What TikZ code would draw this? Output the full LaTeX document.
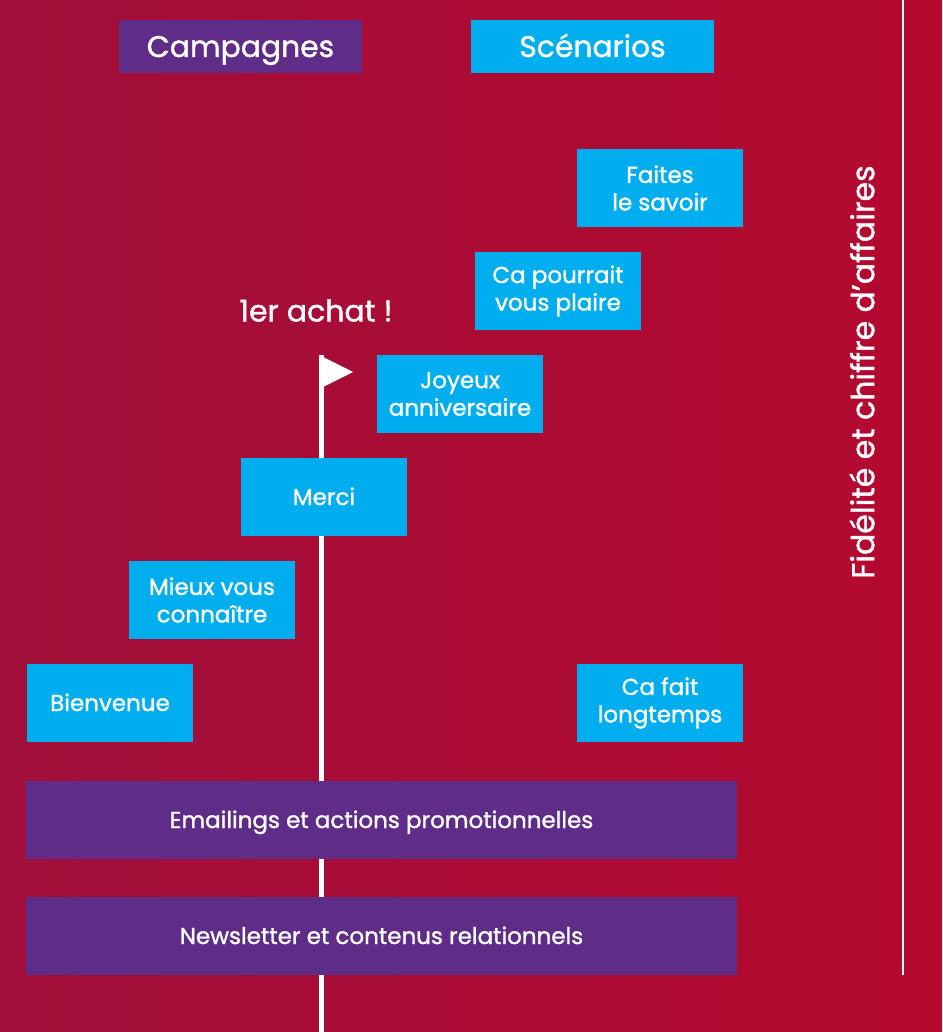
\documentclass[tikz,border=0pt]{standalone}
\usepackage{fontspec}
\setmainfont{Poppins}[FakeBold=1.2]
\usetikzlibrary{shapes.geometric}
\definecolor{bgL}{HTML}{A00F3A}
\definecolor{bgR}{HTML}{B4092F}
\definecolor{violet}{HTML}{5F2D88}
\definecolor{cyanbox}{HTML}{00ADEE}
\tikzset{
  box/.style={rectangle, inner sep=0pt, text=white, align=center, font=\fontsize{23}{27.5}\selectfont},
  sbox/.style={box, fill=cyanbox, minimum width=166pt, minimum height=78pt},
  wbox/.style={box, fill=violet, minimum width=711pt, minimum height=78pt, text height=16pt, text depth=0pt},
  hbox/.style={box, minimum width=243pt, minimum height=53pt, font=\fontsize{29.8}{35}\selectfont, text height=21pt, text depth=0pt},
}
\begin{document}
\begin{tikzpicture}[x=1pt,y=-1pt]
\useasboundingbox (0,0) rectangle (942,1032);
\shade[left color=bgL, right color=bgR] (0,0) rectangle (942,1032);
% timeline
\coordinate (poletop) at (321.5,355);
\coordinate (polebot) at (321.5,1032);
\draw[white, line width=4.5pt] (poletop) -- (polebot);
\fill[white] (319,355) -- (353,372) -- (319,389) -- cycle;
\coordinate (rtop) at (903,0);
\coordinate (rbot) at (903,975);
\draw[white, line width=2pt] (rtop) -- (rbot);
% headers
\node[hbox, fill=violet] (camp) at (240.5,46.5) {Campagnes};
\node[hbox, fill=cyanbox] (scen) at (592.5,46.5) {Scénarios};
% scenario boxes
\node[sbox] (faites) at (660,188) {Faites\\le savoir};
\node[sbox] (pourrait) at (558,291) {Ca pourrait\\vous plaire};
\node[sbox] (joyeux) at (460,394) {Joyeux\\anniversaire};
\node[sbox, text height=16pt, text depth=0pt] (merci) at (324,497) {Merci};
\node[sbox] (mieux) at (212,600) {Mieux vous\\connaître};
\node[sbox, text height=16pt, text depth=0pt] (bienvenue) at (110,703) {Bienvenue};
\node[sbox] (longtemps) at (660,703) {Ca fait\\longtemps};
% campaign bars
\node[wbox] (emailings) at (381.5,820) {Emailings et actions promotionnelles};
\node[wbox] (newsletter) at (381.5,936) {Newsletter et contenus relationnels};
% labels
\node[text=white, font=\fontsize{30}{34}\selectfont, inner sep=0pt, text height=21pt, text depth=0pt] (achat) at (316,311) {1er achat !};
\node[text=white, font=\fontsize{31.5}{36}\selectfont, inner sep=0pt, rotate=90] (fidelite) at (862,372) {Fidélité et chiffre d’affaires};
\end{tikzpicture}
\end{document}
